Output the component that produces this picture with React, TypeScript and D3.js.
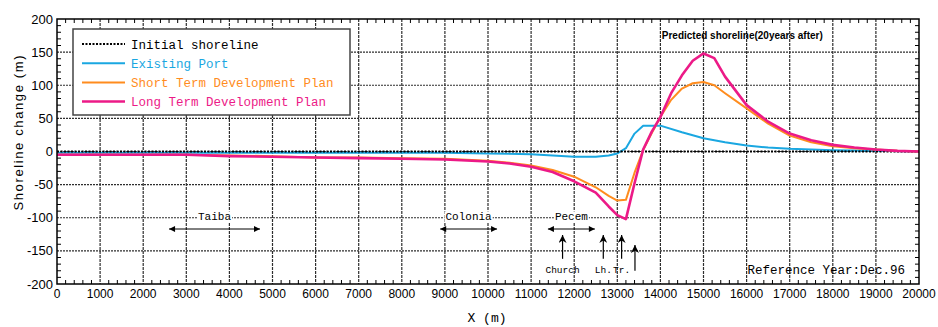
import React, { useEffect } from 'react';
import * as d3 from 'd3';

// shoreline change along the coast (m)
const existingPortX = [0, 2000, 4000, 6000, 8000, 9000, 10000, 11000, 11500, 12000, 12500, 12800, 13000, 13200, 13400, 13600, 14000, 14500, 15000, 15500, 16000, 16500, 17000, 18000, 19000, 20000];
const existingPortY = [-2, -2, -2, -2, -2, -2, -3, -4, -6, -8, -8, -6, -3, 5, 27, 39, 39, 29, 20, 14, 9, 6, 4, 2, 1, 0];

const planX = [0, 1000, 2000, 3000, 4000, 5000, 6000, 7000, 8000, 9000, 10000, 10500, 11000, 11500, 12000, 12500, 12800, 13000, 13200, 13400, 13600, 13800, 14000, 14250, 14500, 14750, 15000, 15250, 15500, 16000, 16500, 17000, 17500, 18000, 18500, 19000, 19500, 20000];
const shortTermY = [-5, -5, -5, -5, -6, -7, -9, -9, -10, -11, -14, -17, -21, -28, -38, -54, -67, -74, -73, -32, 2, 28, 52, 78, 95, 103, 105, 100, 88, 65, 42, 24, 14, 8, 5, 3, 1, 0];
const longTermY = [-5, -5, -5, -5, -7, -8, -9, -10, -11, -12, -15, -18, -23, -31, -45, -62, -83, -96, -102, -48, 3, 30, 52, 88, 115, 137, 148, 141, 113, 70, 45, 27, 17, 10, 6, 3, 1, 0];

const xTicks = d3.range(0, 20001, 1000);
const yTicks = d3.range(-200, 201, 50);

const legendLabels = ['Initial shoreline', 'Existing Port', 'Short Term Development Plan', 'Long Term Development Plan'];

// place names (span along coast) and landmarks (arrow positions)
const areaNames = ['Taiba', 'Colonia', 'Pecem'];
const areaFrom = [2600, 8890, 11390];
const areaTo = [4710, 10210, 12480];
const landmarkNames = ['Church', 'Lh.', 'Tr.', ''];
const landmarkX = [11730, 12675, 13100, 13410];

const COLORS = {
  port: '#1aa7e1',
  short: '#ff8c1e',
  long: '#ec1a87',
  grid: '#2e2e2e',
};

const W = 938;
const H = 327;
const margin = { top: 19, right: 19, bottom: 43, left: 57 };
const innerW = W - margin.left - margin.right;
const innerH = H - margin.top - margin.bottom;

const mono = '"Liberation Mono", "DejaVu Sans Mono", monospace';
const sans = '"Liberation Sans", Arial, sans-serif';

export default function App() {
  useEffect(() => {
    document.body.style.margin = '0';
  }, []);

  const x = d3.scaleLinear().domain([0, 20000]).range([0, innerW]);
  const y = d3.scaleLinear().domain([-200, 200]).range([innerH, 0]);

  const line = d3
    .line<[number, number]>()
    .x(d => x(d[0]))
    .y(d => y(d[1]));

  const portPts = existingPortX.map((v, i) => [v, existingPortY[i]] as [number, number]);
  const shortPts = planX.map((v, i) => [v, shortTermY[i]] as [number, number]);
  const longPts = planX.map((v, i) => [v, longTermY[i]] as [number, number]);

  const xMinor = d3.range(0, 20001, 200).filter(v => v % 1000 !== 0);
  const yMinor = d3.range(-200, 201, 10).filter(v => v % 50 !== 0);

  const legendStyles = [
    { stroke: '#000', width: 2, dash: '2,1.5' },
    { stroke: COLORS.port, width: 2, dash: undefined },
    { stroke: COLORS.short, width: 2, dash: undefined },
    { stroke: COLORS.long, width: 2.5, dash: undefined },
  ];
  const legendText = ['#000', COLORS.port, COLORS.short, COLORS.long];

  const areaArrowY = y(-117);
  const areaLabelY = y(-104);

  return (
    <svg width={W} height={H} style={{ display: 'block', background: '#fff' }}>
      <defs>
        <marker id="ah" viewBox="0 0 10 10" refX="10" refY="5" markerWidth="8" markerHeight="6" orient="auto-start-reverse" markerUnits="userSpaceOnUse">
          <path d="M0,0 L10,5 L0,10 z" fill="#000" />
        </marker>
        <marker id="up" viewBox="0 0 10 10" refX="10" refY="5" markerWidth="9" markerHeight="8" orient="auto" markerUnits="userSpaceOnUse">
          <path d="M0,0 L10,5 L0,10 L3,5 z" fill="#000" />
        </marker>
        <clipPath id="plot">
          <rect width={innerW} height={innerH} />
        </clipPath>
      </defs>
      <g transform={`translate(${margin.left},${margin.top})`}>
        {/* grid */}
        {xTicks.slice(1, -1).map(t => (
          <line key={'gx' + t} x1={x(t)} x2={x(t)} y1={0} y2={innerH} stroke={COLORS.grid} strokeWidth={1.2} strokeDasharray="3,1" />
        ))}
        {yTicks.slice(1, -1).map(t => (
          <line key={'gy' + t} x1={0} x2={innerW} y1={y(t)} y2={y(t)} stroke={COLORS.grid} strokeWidth={1.2} strokeDasharray="2,1" />
        ))}

        {/* minor ticks, inward on all sides */}
        {xMinor.map(t => (
          <g key={'mx' + t}>
            <line x1={x(t)} x2={x(t)} y1={innerH} y2={innerH - 4} stroke="#000" />
            <line x1={x(t)} x2={x(t)} y1={0} y2={4} stroke="#000" />
          </g>
        ))}
        {yMinor.map(t => (
          <g key={'my' + t}>
            <line x1={0} x2={4} y1={y(t)} y2={y(t)} stroke="#000" />
            <line x1={innerW} x2={innerW - 4} y1={y(t)} y2={y(t)} stroke="#000" />
          </g>
        ))}

        {/* series */}
        <g clipPath="url(#plot)">
          <path d={line(portPts) || ''} fill="none" stroke={COLORS.port} strokeWidth={2} strokeLinejoin="round" />
          <line x1={0} x2={innerW} y1={y(0)} y2={y(0)} stroke="#000" strokeWidth={2} strokeDasharray="2,1.5" />
          <path d={line(shortPts) || ''} fill="none" stroke={COLORS.short} strokeWidth={2} strokeLinejoin="round" />
          <path d={line(longPts) || ''} fill="none" stroke={COLORS.long} strokeWidth={2.6} strokeLinejoin="round" />
        </g>

        {/* frame */}
        <rect width={innerW} height={innerH} fill="none" stroke="#000" strokeWidth={1.5} />

        {/* tick labels */}
        {xTicks.map(t => (
          <text key={'tx' + t} x={x(t)} y={innerH + 14} textAnchor="middle" fontFamily={sans} fontSize={12} fill="#000">
            {String(t)}
          </text>
        ))}
        {yTicks.map(t => (
          <text key={'ty' + t} x={-4} y={y(t) + 4.5} textAnchor="end" fontFamily={sans} fontSize={13} fill="#000">
            {String(t)}
          </text>
        ))}

        {/* place names */}
        {areaNames.map((n, i) => {
          const cx = (x(areaFrom[i]) + x(areaTo[i])) / 2;
          const w = n.length * 6.6 + 2;
          return (
            <g key={n}>
              <rect x={cx - w / 2} y={areaLabelY - 9} width={w} height={11} fill="#fff" />
              <text x={cx} y={areaLabelY} textAnchor="middle" fontFamily={mono} fontSize={11} fill="#000">{n}</text>
              <line x1={x(areaFrom[i])} x2={x(areaTo[i])} y1={areaArrowY} y2={areaArrowY} stroke="#000" strokeWidth={1} markerStart="url(#ah)" markerEnd="url(#ah)" />
            </g>
          );
        })}

        {/* landmarks */}
        {landmarkNames.map((n, i) => {
          const last = i === landmarkNames.length - 1;
          const tip = y(last ? -141 : -126);
          const tail = y(last ? -180 : -162);
          return (
            <g key={'lm' + i}>
              <line x1={x(landmarkX[i])} x2={x(landmarkX[i])} y1={tail} y2={tip} stroke="#000" strokeWidth={1.2} markerEnd="url(#up)" />
              {n && (
                <text x={x(landmarkX[i])} y={y(-184)} textAnchor="middle" fontFamily={mono} fontSize={9.5} fill="#000">{n}</text>
              )}
            </g>
          );
        })}

        <text x={innerW - 14} y={y(-185)} textAnchor="end" fontFamily={mono} fontSize={12.5} fill="#000">Reference Year:Dec.96</text>

        <text x={x(15900)} y={20} textAnchor="middle" fontFamily={sans} fontWeight="bold" fontSize={10} textLength={161} lengthAdjust="spacingAndGlyphs" fill="#000">
          Predicted shoreline(20years after)
        </text>

        {/* legend */}
        <g transform="translate(16,10)">
          <rect width={277} height={86} fill="#fff" stroke="#444" strokeWidth={1.5} />
          {legendLabels.map((lab, i) => (
            <g key={lab} transform={`translate(0,${15 + i * 19.2})`}>
              <line x1={9} x2={52} y1={0} y2={0} stroke={legendStyles[i].stroke} strokeWidth={legendStyles[i].width} strokeDasharray={legendStyles[i].dash} />
              <text x={58} y={4.5} fontFamily={mono} fontSize={12.5} fill={legendText[i]}>{lab}</text>
            </g>
          ))}
        </g>
      </g>

      {/* axis titles */}
      <text x={487} y={322} textAnchor="middle" fontFamily={mono} fontSize={13} fill="#000">X (m)</text>
      <text transform={`translate(23,${133}) rotate(-90)`} textAnchor="middle" fontFamily={sans} fontSize={13} textLength={155} lengthAdjust="spacing" fill="#000">
        Shoreline change (m)
      </text>
    </svg>
  );
}
